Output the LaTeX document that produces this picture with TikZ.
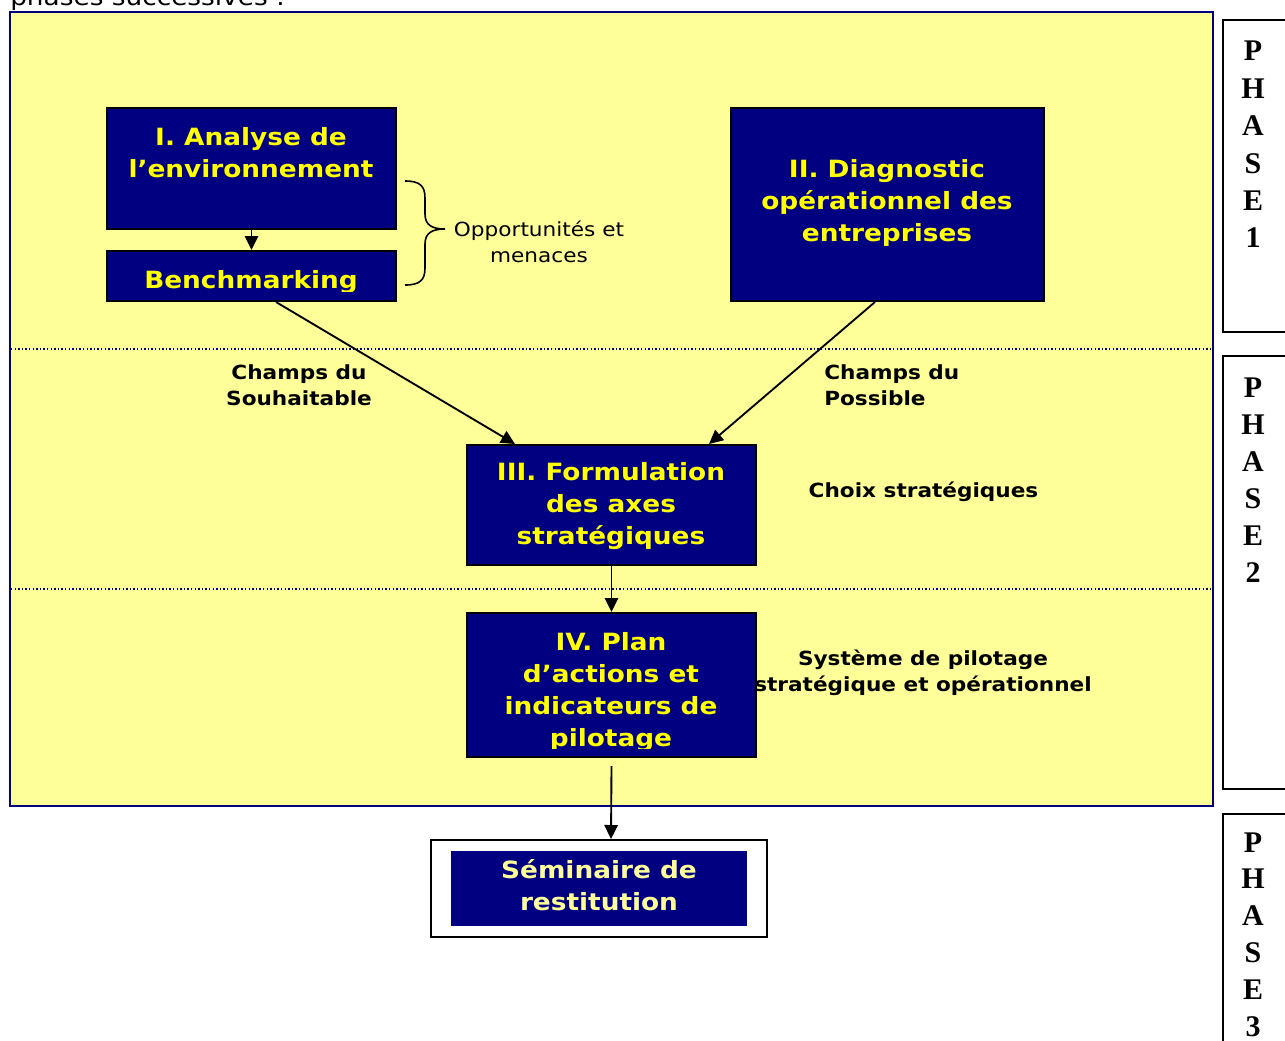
\documentclass[tikz,border=0pt]{standalone}
\usepackage{fontspec}
\setmainfont{DejaVu Sans}
\newfontfamily\wfont{DejaVu Sans}[FakeStretch=1.11]
\newfontfamily\tmfont{Liberation Serif}
\usetikzlibrary{arrows.meta,calc}
\definecolor{bgyellow}{RGB}{255,255,153}
\definecolor{navy}{RGB}{0,0,128}
\definecolor{txtyellow}{RGB}{255,255,0}
\definecolor{paleyellow}{RGB}{255,255,153}
\begin{document}
\begin{tikzpicture}[x=0.75pt,y=-0.75pt,
  navybox/.style={draw=black,line width=1.5pt,fill=navy,inner sep=0pt},
  boxtext/.style={text=txtyellow,font=\wfont\fontsize{17.8}{24}\selectfont\bfseries,align=center,inner sep=0pt},
  lbl/.style={text=black,font=\wfont\fontsize{14.6}{19.5}\selectfont\bfseries,align=center,inner sep=0pt},
  lblreg/.style={text=black,font=\wfont\fontsize{14.6}{19.5}\selectfont,align=center,inner sep=0pt},
  phasetext/.style={align=center,inner sep=0pt},
  phaseframe/.style={draw=black,line width=1.5pt},
  conn/.style={draw=black,line width=1.4pt,-{Triangle[length=10.5pt,width=10pt]}},
  sepline/.style={draw=navy,line width=0.9pt,dash pattern=on 1.1pt off 1.6pt}
]
\useasboundingbox (0,0) rectangle (1285,1040);

% caption text partly cut off at the top
\node[anchor=base west,inner sep=0pt,font=\wfont\fontsize{17.8}{20}\selectfont] (cap) at (10,5) {phases successives :};

% yellow background
\path[fill=bgyellow,draw=navy,line width=1.5pt] (10,12) rectangle (1213,806);
\draw[sepline] (11,349) -- (1212,349);
\draw[sepline] (11,589) -- (1212,589);

% boxes
\node[navybox,minimum width=216.75pt,minimum height=90.75pt] (ana) at (251.5,168.5) {};
\node[boxtext] (anat) at (251,153) {I. Analyse de\\l’environnement};

\node[navybox,minimum width=216.75pt,minimum height=37.5pt] (bench) at (251.5,276) {};
\begin{scope}
  \clip (108,252) rectangle (395,291);
  \node[boxtext] (bencht) at (251,282) {Benchmarking};
\end{scope}

\node[navybox,minimum width=234.75pt,minimum height=144.75pt] (diag) at (887.5,204.5) {};
\node[boxtext] (diagt) at (887,203) {II. Diagnostic\\opérationnel des\\entreprises};

\node[navybox,minimum width=216.75pt,minimum height=90pt] (form) at (611.5,505) {};
\node[boxtext] (formt) at (611,506.5) {III. Formulation\\des axes\\stratégiques};

\node[navybox,minimum width=216.75pt,minimum height=108pt] (plan) at (611.5,685) {};
\begin{scope}
  \clip (468,614) rectangle (755,748);
  \node[boxtext] (plant) at (611,692) {IV. Plan\\d’actions et\\indicateurs de\\pilotage};
\end{scope}

\node[draw=black,line width=1.5pt,fill=white,minimum width=252pt,minimum height=72.75pt,inner sep=0pt] (semout) at (599,888.5) {};
\node[fill=navy,minimum width=222pt,minimum height=56.25pt,inner sep=0pt] (semin) at (599,888.5) {};
\node[boxtext,text=paleyellow] (semt) at (599,885.5) {Séminaire de\\restitution};

% brace
\draw[line width=1.2pt] (405,181) .. controls (420,181) and (425,186) .. (425,198) -- (425,214)
  .. controls (425,225) and (432,229) .. (445,229)
  .. controls (432,229) and (425,233) .. (425,244) -- (425,268)
  .. controls (425,280) and (420,285) .. (405,285);
\node[lblreg] (opp) at (539,242) {Opportunités et\\menaces};

% labels
\node[lbl] (souh) at (299,385) {Champs du\\Souhaitable};
\node[lbl,align=left,anchor=west] (poss) at (824,385) {Champs du\\Possible};
\node[lbl] (choix) at (923.5,492) {Choix stratégiques};
\node[lbl] (syst) at (923,673) {Système de pilotage\\stratégique et opérationnel};

% connectors
\draw[conn] (ana.south) -- (bench.north);
\draw[conn] ($(bench.south)+(24.5,0)$) -- ($(form.north)+(-96.5,0)$);
\draw[conn] ($(diag.south)+(-12.5,0)$) -- ($(form.north)+(97.5,0)$);
\draw[conn] (form.south) -- (plan.north);
\draw[conn] ($(plan.south)+(0,8)$) -- ($(semout.north)+(12,0)$);

% phase frames
\draw[phaseframe] (1300,20) -- (1223,20) -- (1223,332) -- (1300,332);
\draw[phaseframe] (1300,356) -- (1223,356) -- (1223,789) -- (1300,789);
\draw[phaseframe] (1300,814) -- (1223,814) -- (1223,1050);
\node[phasetext,font=\tmfont\fontsize{22.5}{28.05}\selectfont\bfseries] (ph1) at (1253,144.5) {P\\H\\A\\S\\E\\1};
\node[phasetext,font=\tmfont\fontsize{22.5}{27.75}\selectfont\bfseries] (ph2) at (1253,480.5) {P\\H\\A\\S\\E\\2};
\node[phasetext,font=\tmfont\fontsize{22.5}{27.6}\selectfont\bfseries] (ph3) at (1253,934.5) {P\\H\\A\\S\\E\\3};
\end{tikzpicture}
\end{document}
